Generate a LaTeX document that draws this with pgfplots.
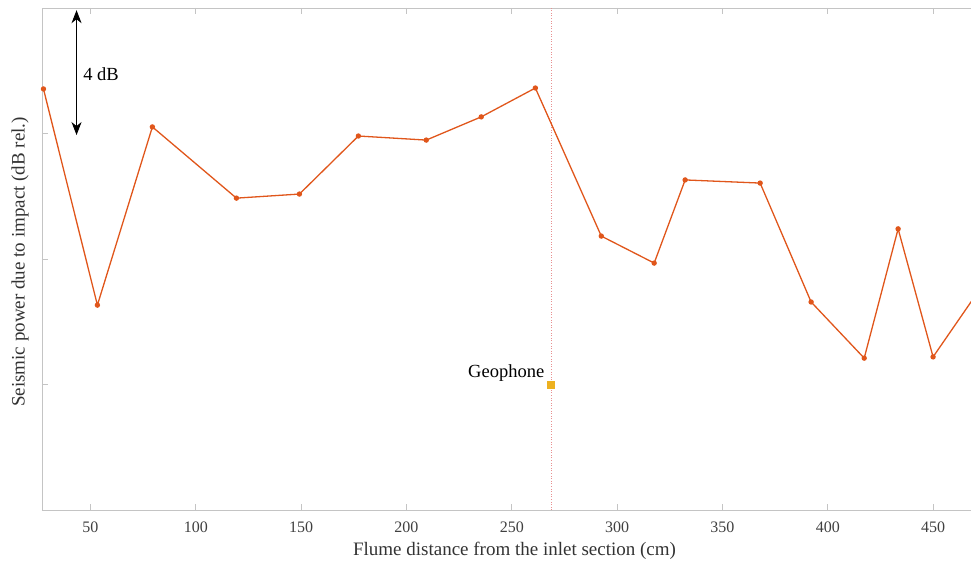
\documentclass[border=0pt]{standalone}
\usepackage{pgfplots}
\pgfplotsset{compat=1.18}
\usepackage{fontspec}
\setmainfont{Liberation Serif}
\usetikzlibrary{arrows.meta}
\definecolor{lineor}{HTML}{E0561B}
\definecolor{geo}{HTML}{EDB120}
\definecolor{frame}{HTML}{C4C4C4}
\definecolor{dotc}{HTML}{E89090}
\begin{document}
\begin{tikzpicture}
\useasboundingbox (-42pt,-53pt) rectangle (929pt,510pt);
\begin{axis}[
  scale only axis,
  width=929pt, height=502pt,
  xmin=27, xmax=468, ymin=0, ymax=16,
  axis x line*=box, axis y line*=left,
  axis line style={frame, line width=0.9pt},
  every tick/.style={frame, line width=0.9pt},
  major tick length=6pt,
  tick align=inside,
  xtick={50,100,...,450},
  ytick={4,8,12},
  yticklabels={},
  /pgf/number format/assume math mode=true,
  tick label style={font=\fontsize{16}{19}\selectfont, text=black!75},
  xticklabel style={yshift=-8pt},
  xlabel={Flume distance from the inlet section (cm)},
  ylabel={Seismic power due to impact (dB rel.)},
  every axis x label/.style={at={(axis description cs:0.5,0)}, anchor=center, yshift=-41pt, xshift=8pt, font=\fontsize{19}{22}\selectfont, text=black!80},
  every axis y label/.style={at={(axis description cs:0,0.5)}, anchor=center, rotate=90, yshift=22pt, xshift=-3pt, font=\fontsize{19}{22}\selectfont, text=black!80},
  clip=true,
]
\addplot[dotc, dotted, line width=0.6pt] coordinates {(268.7,0) (268.7,16)};
\addplot[lineor, line width=1.3pt, mark=*, mark size=2pt] coordinates {
(27.7,13.42) (53.3,6.53) (79.4,12.21) (119.3,9.94) (149.2,10.07)
(177.2,11.92) (209.4,11.79) (235.5,12.53) (261.2,13.45) (292.5,8.73)
(317.6,7.87) (332.3,10.52) (367.9,10.42) (392.1,6.63) (417.3,4.84)
(433.4,8.96) (450.0,4.88) (480.0,7.80)
};
\addplot[only marks, mark=square*, mark size=3.5pt, geo, mark options={draw=geo, fill=geo}] coordinates {(268.7,4)};
\node[anchor=south east, font=\fontsize{18.5}{21}\selectfont, inner sep=0pt] at (axis cs:265.5,4.1) {Geophone};
\draw[black, line width=1pt, {Stealth[length=13pt,width=10pt,inset=4pt]}-{Stealth[length=13pt,width=10pt,inset=4pt]}] (axis cs:43.4,15.93) -- (axis cs:43.4,11.95);
\node[anchor=west, font=\fontsize{18.5}{21}\selectfont, inner sep=0pt] at (axis cs:46.5,13.9) {4 dB};
\end{axis}
\end{tikzpicture}
\end{document}
